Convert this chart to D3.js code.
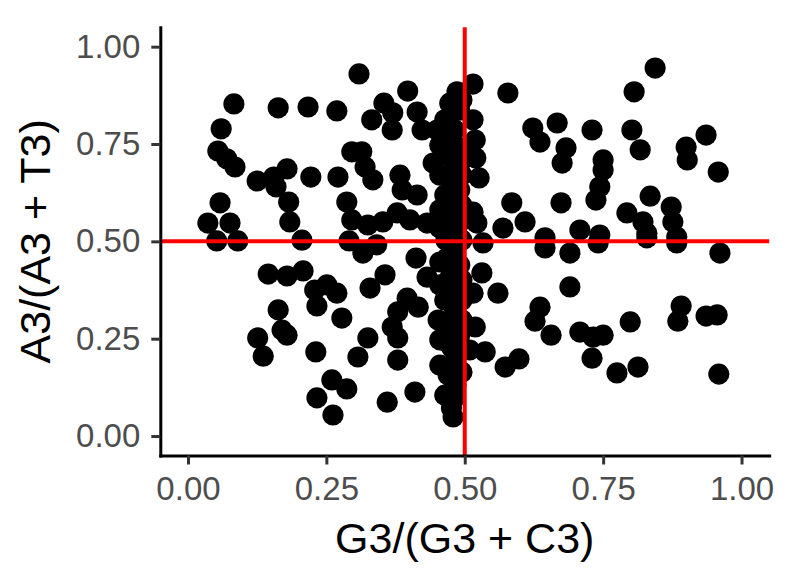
<!DOCTYPE html>
<html>
<head>
<meta charset="utf-8">
<script src="https://cdn.jsdelivr.net/npm/d3@7"></script>
<style>
  body { margin: 0; background: #fff; }
  text { font-family: "Liberation Sans", Arial, sans-serif; }
</style>
</head>
<body>
<div id="chart"></div>
<script>
// G3/(G3 + C3) for each point
var gcRatio = [
  0.083, 0.163, 0.217, 0.060, 0.054, 0.070, 0.085, 0.125, 0.155, 0.179,
  0.159, 0.222, 0.182, 0.058, 0.036, 0.076, 0.184, 0.309, 0.397, 0.269,
  0.354, 0.370, 0.332, 0.369, 0.414, 0.423, 0.486, 0.473, 0.464, 0.450,
  0.296, 0.314, 0.320, 0.334, 0.271, 0.383, 0.387, 0.414, 0.443, 0.287,
  0.296, 0.325, 0.352, 0.378, 0.401, 0.432, 0.291, 0.052, 0.090, 0.206,
  // dense column just left of 0.5
  0.491, 0.482, 0.470, 0.491, 0.464, 0.482, 0.477, 0.491, 0.464, 0.482,
  0.470, 0.491, 0.477, 0.482, 0.468, 0.491, 0.473, 0.488, 0.464, 0.482,
  0.470, 0.491, 0.477, 0.482, 0.470, 0.484, 0.466,
  0.495, 0.455, 0.495, 0.455, 0.495, 0.455, 0.495, 0.455, 0.495, 0.455,
  0.495, 0.455, 0.495, 0.455, 0.495, 0.495, 0.455, 0.495, 0.464, 0.476,
  // upper right
  0.515, 0.578, 0.515, 0.519, 0.520, 0.526, 0.623, 0.636, 0.667, 0.683,
  0.676, 0.730, 0.750, 0.750, 0.744, 0.737, 0.806, 0.802, 0.817, 0.585,
  0.674, 0.515, 0.522, 0.569, 0.609, 0.708, 0.744, 0.793, 0.822, 0.829,
  0.645, 0.844, 0.900, 0.902, 0.936, 0.958, 0.835, 0.873, 0.876, 0.883,
  // lower left
  0.145, 0.179, 0.208, 0.229, 0.233, 0.163, 0.170, 0.179, 0.126, 0.136,
  0.231, 0.233, 0.316, 0.341, 0.412, 0.356, 0.329, 0.251, 0.269, 0.278,
  0.432, 0.396, 0.416, 0.379, 0.369, 0.379, 0.325, 0.307, 0.379, 0.452,
  0.468, 0.473, 0.260, 0.287, 0.262, 0.360, 0.410, 0.482, 0.479,
  // lower right
  0.533, 0.645, 0.690, 0.741, 0.531, 0.515, 0.560, 0.690, 0.636, 0.627,
  0.656, 0.519, 0.708, 0.732, 0.750, 0.799, 0.730, 0.775, 0.813, 0.537,
  0.509, 0.573, 0.598, 0.829, 0.883, 0.961, 0.891, 0.885, 0.936, 0.956,
  0.959
];

// A3/(A3 + T3) for each point
var atRatio = [
  0.853, 0.843, 0.845, 0.789, 0.732, 0.712, 0.691, 0.655, 0.665, 0.686,
  0.640, 0.665, 0.601, 0.599, 0.547, 0.547, 0.550, 0.930, 0.886, 0.835,
  0.855, 0.830, 0.812, 0.786, 0.832, 0.786, 0.884, 0.855, 0.812, 0.786,
  0.730, 0.730, 0.691, 0.658, 0.665, 0.670, 0.632, 0.619, 0.701, 0.601,
  0.555, 0.542, 0.550, 0.573, 0.555, 0.547, 0.501, 0.501, 0.501, 0.503,
  0.837, 0.786, 0.760, 0.740, 0.722, 0.696, 0.658, 0.632, 0.619, 0.593,
  0.568, 0.550, 0.524, 0.483, 0.457, 0.439, 0.406, 0.375, 0.349, 0.324,
  0.285, 0.259, 0.226, 0.190, 0.157, 0.131, 0.503,
  0.863, 0.747, 0.709, 0.670, 0.670, 0.581, 0.593, 0.534, 0.503, 0.447,
  0.401, 0.388, 0.349, 0.247, 0.298, 0.221, 0.182, 0.164, 0.105, 0.072,
  0.904, 0.881, 0.812, 0.760, 0.714, 0.663, 0.791, 0.755, 0.804, 0.740,
  0.701, 0.786, 0.709, 0.683, 0.640, 0.606, 0.884, 0.786, 0.735, 0.599,
  0.599, 0.575, 0.547, 0.534, 0.550, 0.529, 0.516, 0.573, 0.550, 0.521,
  0.509, 0.945, 0.742, 0.709, 0.773, 0.678, 0.616, 0.588, 0.550, 0.511,
  0.416, 0.411, 0.424, 0.375, 0.334, 0.324, 0.272, 0.259, 0.252, 0.205,
  0.216, 0.098, 0.470, 0.491, 0.457, 0.414, 0.380, 0.388, 0.367, 0.303,
  0.408, 0.354, 0.331, 0.319, 0.280, 0.252, 0.252, 0.203, 0.195, 0.298,
  0.241, 0.177, 0.144, 0.121, 0.054, 0.087, 0.113, 0.098, 0.049,
  0.496, 0.483, 0.470, 0.496, 0.419, 0.367, 0.367, 0.383, 0.331, 0.295,
  0.259, 0.280, 0.267, 0.254, 0.259, 0.293, 0.200, 0.162, 0.177, 0.216,
  0.221, 0.177, 0.198, 0.509, 0.496, 0.470, 0.334, 0.295, 0.308, 0.311,
  0.159
];

var xTicks = [0, 0.25, 0.5, 0.75, 1];
var yTicks = [0, 0.25, 0.5, 0.75, 1];
var refX = 0.5, refY = 0.5;
var xTitle = "G3/(G3 + C3)";
var yTitle = "A3/(A3 + T3)";

var data = gcRatio.map(function(d, i){ return {gc: d, at: atRatio[i]}; });

var W = 798, H = 573;
var panel = {left: 160.3, right: 769.2, top: 27.2, bottom: 455.5};

var xScale = d3.scaleLinear()
    .domain([-0.05, 1.05])
    .range([panel.left, panel.right]);
var yScale = d3.scaleLinear()
    .domain([-0.05, 1.05])
    .range([panel.bottom, panel.top]);

var svg = d3.select("#chart").append("svg")
    .attr("width", W)
    .attr("height", H);

// points
svg.append("g").attr("class", "points")
  .selectAll("circle").data(data)
  .enter().append("circle")
    .attr("cx", function(d){ return xScale(d.gc); })
    .attr("cy", function(d){ return yScale(d.at); })
    .attr("r", 10.6)
    .attr("fill", "#000");

// reference lines
svg.append("line")
    .attr("x1", xScale(refX)).attr("x2", xScale(refX))
    .attr("y1", panel.top).attr("y2", panel.bottom)
    .attr("stroke", "#ff0000").attr("stroke-width", 4);
svg.append("line")
    .attr("x1", panel.left).attr("x2", panel.right)
    .attr("y1", yScale(refY)).attr("y2", yScale(refY))
    .attr("stroke", "#ff0000").attr("stroke-width", 4);

// axes
var xAxis = d3.axisBottom(xScale)
    .tickValues(xTicks)
    .tickFormat(d3.format(".2f"))
    .tickSize(9)
    .tickSizeOuter(0)
    .tickPadding(12);
var yAxis = d3.axisLeft(yScale)
    .tickValues(yTicks)
    .tickFormat(d3.format(".2f"))
    .tickSize(9)
    .tickSizeOuter(0)
    .tickPadding(11);

var gx = svg.append("g")
    .attr("transform", "translate(0," + panel.bottom + ")")
    .call(xAxis);
var gy = svg.append("g")
    .attr("transform", "translate(" + panel.left + ",0)")
    .call(yAxis);

[gx, gy].forEach(function(g){
  g.select(".domain").attr("stroke", "#000").attr("stroke-width", 3)
    .attr("stroke-linecap", "square");
  g.selectAll(".tick line").attr("stroke", "#333").attr("stroke-width", 3);
  g.selectAll(".tick text")
    .attr("fill", "#4d4d4d")
    .attr("font-size", 33)
    .attr("font-family", "Liberation Sans, Arial, sans-serif");
});

// titles
svg.append("text")
    .attr("x", (panel.left + panel.right) / 2)
    .attr("y", 553)
    .attr("text-anchor", "middle")
    .attr("font-size", 43)
    .attr("fill", "#000")
    .text(xTitle);
svg.append("text")
    .attr("transform", "translate(50," + ((panel.top + panel.bottom) / 2) + ") rotate(-90)")
    .attr("text-anchor", "middle")
    .attr("font-size", 43)
    .attr("fill", "#000")
    .text(yTitle);
</script>
</body>
</html>
